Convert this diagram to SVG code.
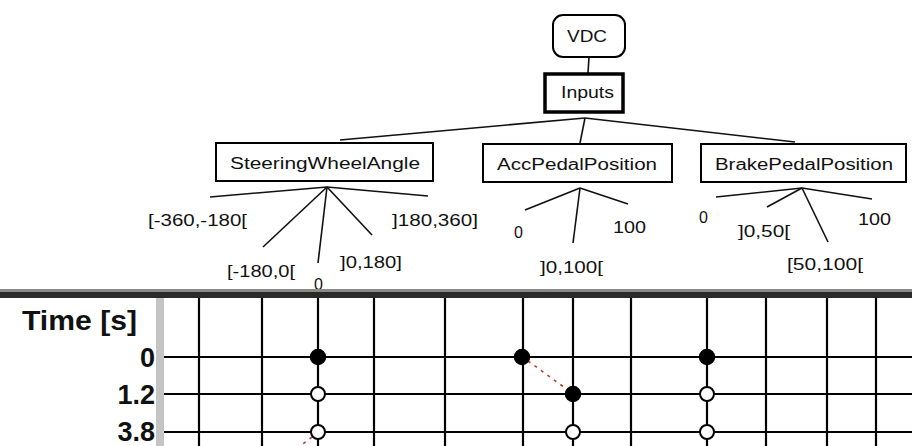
<svg xmlns="http://www.w3.org/2000/svg" width="912" height="446" viewBox="0 0 912 446">
<style>
.box{fill:#fff;stroke:#000;stroke-width:2}
.bt{font-family:"Liberation Sans",Arial,sans-serif;font-size:16px;fill:#111}
.lb{font-family:"Liberation Sans",Arial,sans-serif;font-size:16px;fill:#111}
.br{stroke:#111;stroke-width:1.6;fill:none}
.grid{stroke:#000;stroke-width:2.2}
.tt{font-family:"Liberation Sans",Arial,sans-serif;font-weight:bold;font-size:27px;fill:#111}
.on{fill:#000;stroke:#000;stroke-width:1.5}
.off{fill:#fff;stroke:#000;stroke-width:2}
.trace{stroke:#c0392b;stroke-width:1.6;stroke-dasharray:3 5;fill:none}
</style>
<rect width="912" height="446" fill="#fff"/>

<g id="connectors">
  <line class="br" x1="589" y1="57" x2="588" y2="73"/>
  <line class="br" x1="585" y1="118" x2="340" y2="140"/>
  <line class="br" x1="585" y1="118" x2="580" y2="143"/>
  <line class="br" x1="585" y1="118" x2="795" y2="142"/>
  <line class="br" x1="327" y1="187" x2="210" y2="197"/>
  <line class="br" x1="327" y1="187" x2="263" y2="247"/>
  <line class="br" x1="327" y1="187" x2="318" y2="263"/>
  <line class="br" x1="327" y1="187" x2="372" y2="235"/>
  <line class="br" x1="327" y1="187" x2="428" y2="196"/>
  <line class="br" x1="580" y1="188" x2="525" y2="210"/>
  <line class="br" x1="580" y1="188" x2="573" y2="243"/>
  <line class="br" x1="580" y1="188" x2="628" y2="204"/>
  <line class="br" x1="802" y1="188" x2="716" y2="197"/>
  <line class="br" x1="802" y1="188" x2="767" y2="207"/>
  <line class="br" x1="802" y1="188" x2="828" y2="242"/>
  <line class="br" x1="802" y1="188" x2="872" y2="199"/>
</g>

<g id="VDC">
  <rect class="box" x="553" y="15" width="72" height="42" rx="10"/>
  <text class="bt" x="567" y="42" textLength="40" lengthAdjust="spacingAndGlyphs">VDC</text>
</g>
<g id="Inputs">
  <rect x="545" y="74" width="78" height="38" fill="#fff" stroke="#000" stroke-width="3.5"/>
  <text class="bt" x="561" y="98" textLength="53" lengthAdjust="spacingAndGlyphs">Inputs</text>
</g>
<g id="SteeringWheelAngle">
  <rect class="box" x="216" y="143" width="217" height="38"/>
  <text class="bt" x="230" y="169" textLength="190" lengthAdjust="spacingAndGlyphs">SteeringWheelAngle</text>
</g>
<g id="AccPedalPosition">
  <rect class="box" x="483" y="144" width="189" height="38"/>
  <text class="bt" x="497" y="170" textLength="160" lengthAdjust="spacingAndGlyphs">AccPedalPosition</text>
</g>
<g id="BrakePedalPosition">
  <rect class="box" x="701" y="144" width="205" height="38"/>
  <text class="bt" x="715" y="170" textLength="178" lengthAdjust="spacingAndGlyphs">BrakePedalPosition</text>
</g>

<g id="labels">
  <text class="lb" x="148" y="226" textLength="99" lengthAdjust="spacingAndGlyphs">[-360,-180[</text>
  <text class="lb" x="392" y="226" textLength="86" lengthAdjust="spacingAndGlyphs">]180,360]</text>
  <text class="lb" x="227" y="277" textLength="68" lengthAdjust="spacingAndGlyphs">[-180,0[</text>
  <text class="lb" x="340" y="268" textLength="62" lengthAdjust="spacingAndGlyphs">]0,180]</text>
  <text class="lb" x="314" y="290">0</text>
  <text class="lb" x="514" y="238">0</text>
  <text class="lb" x="613" y="233" textLength="33" lengthAdjust="spacingAndGlyphs">100</text>
  <text class="lb" x="540" y="273" textLength="63" lengthAdjust="spacingAndGlyphs">]0,100[</text>
  <text class="lb" x="699" y="223">0</text>
  <text class="lb" x="738" y="237" textLength="52" lengthAdjust="spacingAndGlyphs">]0,50[</text>
  <text class="lb" x="858" y="225" textLength="33" lengthAdjust="spacingAndGlyphs">100</text>
  <text class="lb" x="787" y="270" textLength="76" lengthAdjust="spacingAndGlyphs">[50,100[</text>
</g>

<g id="timeline">
  <rect x="0" y="289" width="912" height="3" fill="#8a8a8a"/>
  <rect x="0" y="292" width="912" height="6" fill="#2a2a2a"/>
  <rect x="156" y="298" width="8" height="148" fill="#c4c4c4"/>
  <g class="grid">
    <line x1="164" y1="357" x2="912" y2="357"/>
    <line x1="164" y1="394" x2="912" y2="394"/>
    <line x1="164" y1="432" x2="912" y2="432"/>
    <line x1="199" y1="298" x2="199" y2="446"/>
    <line x1="262" y1="298" x2="262" y2="446"/>
    <line x1="318" y1="298" x2="318" y2="446"/>
    <line x1="374" y1="298" x2="374" y2="446"/>
    <line x1="445" y1="298" x2="445" y2="446"/>
    <line x1="523" y1="298" x2="523" y2="446"/>
    <line x1="573" y1="298" x2="573" y2="446"/>
    <line x1="631" y1="298" x2="631" y2="446"/>
    <line x1="707" y1="298" x2="707" y2="446"/>
    <line x1="766" y1="298" x2="766" y2="446"/>
    <line x1="827" y1="298" x2="827" y2="446"/>
    <line x1="876" y1="298" x2="876" y2="446"/>
  </g>
  <text class="tt" x="22" y="330" textLength="115" lengthAdjust="spacingAndGlyphs">Time [s]</text>
  <text class="tt" x="155" y="367" text-anchor="end">0</text>
  <text class="tt" x="155" y="404" text-anchor="end">1.2</text>
  <text class="tt" x="155" y="441" text-anchor="end">3.8</text>
  <line class="trace" x1="528" y1="361" x2="568" y2="390"/>
  <line class="trace" x1="312" y1="437" x2="292" y2="452"/>
  <circle class="on" cx="318" cy="357" r="7.5"/>
  <circle class="off" cx="318" cy="394" r="7"/>
  <circle class="off" cx="318" cy="432" r="7"/>
  <circle class="on" cx="522" cy="357" r="7.5"/>
  <circle class="on" cx="573" cy="394" r="7.5"/>
  <circle class="off" cx="573" cy="432" r="7"/>
  <circle class="on" cx="707" cy="357" r="7.5"/>
  <circle class="off" cx="707" cy="394" r="7"/>
  <circle class="off" cx="707" cy="432" r="7"/>
</g>
</svg>
